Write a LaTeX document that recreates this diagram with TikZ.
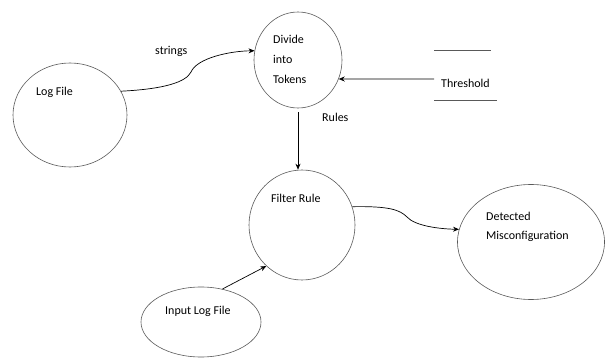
\documentclass[tikz,border=0pt]{standalone}
\usepackage{fontspec}
\setmainfont{Carlito}
\usetikzlibrary{shapes.geometric,arrows.meta}
\begin{document}
\begin{tikzpicture}[x=1pt,y=-1pt,
  proc/.style={draw=black!65,line width=0.6pt,ellipse,inner sep=0pt},
  lbl/.style={font=\fontsize{12}{14}\selectfont,inner sep=0pt,anchor=west,text=black},
  flow/.style={draw=black,line width=0.7pt,-{Stealth[length=6pt,width=5pt]}}]
\useasboundingbox (0,0) rectangle (605,358);
\node[proc,minimum width=114pt,minimum height=104pt] (log) at (70,115) {};
\node[proc,minimum width=88pt,minimum height=96pt] (divide) at (298,60) {};
\node[proc,minimum width=106pt,minimum height=110pt] (filter) at (302,225) {};
\node[proc,minimum width=120pt,minimum height=70pt] (input) at (201,322) {};
\node[proc,minimum width=147pt,minimum height=115pt] (detect) at (531,242) {};
% texts
\node[lbl] (tlog) at (36,92) {Log File};
\node[lbl] (tdiv1) at (273,39) {Divide};
\node[lbl] (tdiv2) at (273,59) {into};
\node[lbl] (tdiv3) at (273,79) {Tokens};
\node[lbl] (tfil) at (271,198) {Filter Rule};
\node[lbl] (tinp) at (165,311) {Input Log File};
\node[lbl] (tdet1) at (486,216) {Detected};
\node[lbl] (tdet2) at (486,236) {Misconfiguration};
\node[lbl] (tstr) at (155,51) {strings};
\node[lbl] (trul) at (322,117) {Rules};
\node[lbl] (tthr) at (441,83) {Threshold};
% threshold store lines
\draw[draw=black!65,line width=0.7pt] (434,50) -- (491,50);
\draw[draw=black!65,line width=0.7pt] (434,100) -- (497,100);
\coordinate (thr) at (434,79);
% connectors
\draw[flow] (log.25) .. controls (165,89) and (186,82) .. (191,72)
  .. controls (197,58) and (230,51) .. (divide.168);
\draw[flow] (thr) -- (divide.-25);
\path (divide.south) ++(0,4) coordinate (rs);
\draw[flow] (rs) -- (rs |- filter.north);
\draw[flow] (filter.20) .. controls (390,206) and (400,210) .. (407,217)
  .. controls (415,226) and (440,229) .. (detect.170);
\draw[flow] (input.57) -- (filter.229);
\end{tikzpicture}
\end{document}
